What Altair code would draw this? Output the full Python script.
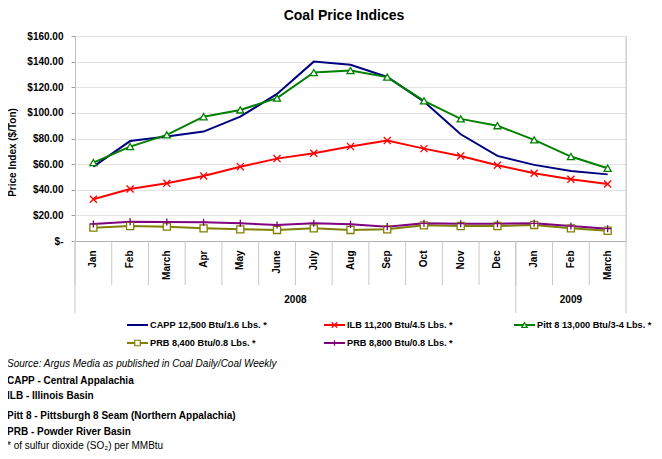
import altair as alt
import pandas as pd

# ---------------- data ----------------
months = ["Jan", "Feb", "March", "Apr", "May", "June", "July", "Aug", "Sep",
          "Oct", "Nov", "Dec", "Jan", "Feb", "March"]
years = ["2008"] * 12 + ["2009"] * 3
year_labels = ["2008", "2009"]

series_names = ["CAPP 12,500 Btu/1.6 Lbs. *", "ILB 11,200 Btu/4.5 Lbs. *",
                "Pitt 8 13,000 Btu/3-4 Lbs. *", "PRB 8,400 Btu/0.8 Lbs. *",
                "PRB 8,800 Btu/0.8 Lbs. *"]
capp = [58, 78, 81.5, 85.4, 97, 114.8, 140, 137.5, 128, 108.8, 83.3, 66.4, 59.4, 54.7, 52]
ilb = [32.6, 40.6, 45, 50.8, 58, 64.3, 68.5, 73.7, 78.4, 72.1, 66.4, 59.1, 52.9, 48.2, 44.5]
pitt = [61.2, 73.7, 82.8, 97, 102.3, 111.5, 131.5, 133, 127.9, 109.4, 95.3, 90, 78.9, 65.9, 56.8]
prb84 = [10.4, 11.7, 11.2, 9.9, 9.1, 8.6, 9.9, 8.6, 9.1, 12.2, 11.7, 11.7, 12.5, 9.9, 8]
prb88 = [13.3, 15.1, 14.8, 14.6, 13.8, 12.5, 13.8, 13, 11.2, 13.8, 13.5, 13.5, 13.8, 11.7, 9.6]
y_ticks = [0, 20, 40, 60, 80, 100, 120, 140, 160]

title_text = "Coal Price Indices"
y_title = "Price Index ($/Ton)"
notes = [
    ("Source: Argus Media as published in Coal Daily/Coal Weekly", "normal", "italic"),
    ("CAPP - Central Appalachia", "bold", "normal"),
    ("ILB - Illinois Basin", "bold", "normal"),
    ("Pitt 8 - Pittsburgh 8 Seam (Northern Appalachia)", "bold", "normal"),
    ("PRB - Powder River Basin", "bold", "normal"),
    ("* of sulfur dioxide (SO\u2082) per MMBtu", "normal", "normal"),
]

# ---------------- styles ----------------
colors = ["#000080", "#FF0000", "#008000", "#808000", "#800080"]
shapes = ["circle", "M-1,-1L1,1M-1,1L1,-1", "triangle-up", "square", "M0,-1V1M-1,0H1"]
FONT = "Liberation Sans"
W, H = 551, 205

keys = [f"{y}|{m}" for y, m in zip(years, months)]
values = [capp, ilb, pitt, prb84, prb88]
rows = []
for s, vals in zip(series_names, values):
    for i, (k, v) in enumerate(zip(keys, vals)):
        rows.append({"key": k, "idx": i, "series": s, "value": v})
df = pd.DataFrame(rows)
kdf = pd.DataFrame({"key": keys})

xscale = alt.Scale(type="band", domain=keys, paddingInner=0, paddingOuter=0)
xaxis = alt.Axis(title=None, labelAngle=270, labelFont=FONT, labelFontWeight="bold",
                 labelFontSize=10, labelColor="black", labelPadding=9, ticks=False,
                 domainColor="#b0b0b0", grid=False,
                 labelExpr="split(datum.label, '|')[1]")
yscale = alt.Scale(domain=[0, 160], nice=False)
yaxis = alt.Axis(values=y_ticks, title=y_title, titleFont=FONT, titleFontSize=10,
                 titleFontWeight="bold", titleColor="black", titleX=-63, titleY=116,
                 titleBaseline="middle", titleAngle=270,
                 labelFont=FONT, labelFontSize=10, labelFontWeight="bold", labelColor="black",
                 labelPadding=8, tickSize=4, tickColor="#a0a0a0", domainColor="#bfbfbf",
                 gridColor="#e3e3e3",
                 labelExpr="datum.value == 0 ? '$-\u00a0\u00a0\u00a0' : '$' + format(datum.value, ',.2f')")

color = alt.Color("series:N", scale=alt.Scale(domain=series_names, range=colors), legend=None)
shape = alt.Shape("series:N", scale=alt.Scale(domain=series_names, range=shapes), legend=None)


def X(bp):
    return alt.X("key:N", scale=xscale, axis=xaxis, bandPosition=bp)


Y = alt.Y("value:Q", scale=yscale, axis=yaxis)

lines = alt.Chart(df).mark_line(strokeWidth=2).encode(
    x=X(0.5), y=Y, color=color, order=alt.Order("idx:Q"))

points = alt.Chart(df).transform_filter(
    alt.datum.series != series_names[0]
).mark_point(filled=False, fill="white", size=50, strokeWidth=1.3, opacity=1).encode(
    x=X(0.5), y=Y, color=color, shape=shape)

grid_col = "#c8c8c8"
month_ticks = alt.Chart(kdf).mark_rule(color=grid_col, strokeWidth=1).encode(
    x=X(0), y=alt.value(H), y2=alt.value(H + 44))

first_keys = pd.DataFrame({"key": [keys[years.index(y)] for y in year_labels]})
year_rules = alt.Chart(first_keys).mark_rule(color=grid_col, strokeWidth=1).encode(
    x=X(0), y=alt.value(H), y2=alt.value(H + 72))
right_rule = alt.Chart(pd.DataFrame({"key": [keys[-1]]})).mark_rule(
    color=grid_col, strokeWidth=1).encode(x=X(1), y=alt.value(0), y2=alt.value(H + 72))

year_layers = []
for y in year_labels:
    start = years.index(y)
    n = years.count(y)
    mid = start + n / 2.0
    idx = int(mid)
    bp = mid - idx
    year_layers.append(
        alt.Chart(pd.DataFrame({"key": [keys[idx]], "t": [y]})).mark_text(
            font=FONT, fontSize=10, fontWeight="bold", color="black", baseline="middle"
        ).encode(x=X(bp), y=alt.value(H + 59), text="t:N"))

title = alt.Chart(pd.DataFrame({"t": [title_text]})).mark_text(
    font=FONT, fontSize=14, fontWeight="bold", color="black", baseline="middle", align="center"
).encode(x=alt.value(269), y=alt.value(-20), text="t:N")

# legend (custom, to show line + marker)
leg_cols = [52, 249, 439]
leg_rows = [289, 307]
legend_layers = []
for i, s in enumerate(series_names):
    cx = leg_cols[i % 3]
    cy = leg_rows[i // 3]
    d = pd.DataFrame({"series": [s]})
    legend_layers.append(alt.Chart(d).mark_rule(strokeWidth=2).encode(
        x=alt.value(cx), x2=alt.value(cx + 21), y=alt.value(cy), color=color))
    if i > 0:
        legend_layers.append(alt.Chart(d).mark_point(
            filled=False, fill="white", size=30, strokeWidth=1.2, opacity=1).encode(
            x=alt.value(cx + 10.5), y=alt.value(cy), color=color, shape=shape))
    legend_layers.append(alt.Chart(d).mark_text(
        font=FONT, fontSize=9.2, fontWeight="bold", color="black", align="left",
        baseline="middle").encode(x=alt.value(cx + 23), y=alt.value(cy), text="series:N"))

note_y = [328, 345, 360, 380, 396, 410]
note_layers = []
for (txt, wt, st), ny in zip(notes, note_y):
    note_layers.append(alt.Chart(pd.DataFrame({"t": [txt]})).mark_text(
        font=FONT, fontSize=10, fontWeight=wt, fontStyle=st, color="black",
        align="left", baseline="middle").encode(
        x=alt.value(-68), y=alt.value(ny), text="t:N"))

chart = alt.layer(
    month_ticks, year_rules, right_rule, lines, points, *year_layers, title,
    *legend_layers, *note_layers
).properties(
    width=W, height=H,
    autosize=alt.AutoSizeParams(type="none"),
    padding={"left": 67, "top": 28, "right": 28, "bottom": 210},
).configure_view(stroke=None).configure(font=FONT)

chart.save("out.html", embed_options={"renderer": "svg", "actions": False})
